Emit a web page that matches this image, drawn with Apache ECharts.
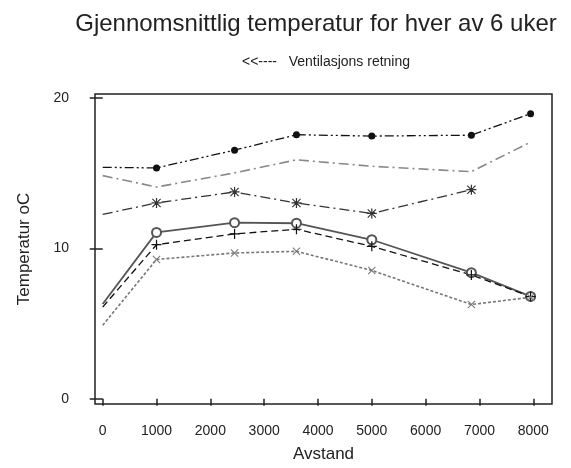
<!DOCTYPE html>
<html>
<head>
<meta charset="utf-8">
<title>Gjennomsnittlig temperatur</title>
<script src="https://cdn.jsdelivr.net/npm/echarts@6/dist/echarts.min.js"></script>
<style>
  html, body { margin: 0; padding: 0; background: #fff; }
  #chart { width: 571px; height: 468px; }
</style>
</head>
<body>
<div id="chart"></div>
<script>
// Measurement positions along the duct (distance)
const distance = [0, 1000, 2450, 3600, 5000, 6850, 7950];

// Mean temperature (oC) for each of the 6 weeks
const week1 = [15.4, 15.36, 16.54, 17.57, 17.48, 17.54, 18.97];
const week2 = [14.85, 14.09, 15.03, 15.9, 15.47, 15.11, 17.08];
const week3 = [12.27, 13.03, 13.76, 13.03, 12.33, 13.91, null];
const week4 = [6.3, 11.07, 11.72, 11.68, 10.58, 8.39, 6.81];
const week5 = [6.1, 10.25, 10.97, 11.28, 10.14, 8.24, 6.8];
const week6 = [4.89, 9.27, 9.7, 9.81, 8.54, 6.27, 6.75];

// Tick values
const xTicks = [0, 1000, 2000, 3000, 4000, 5000, 6000, 7000, 8000];
const yTicks = [0, 10, 20];

const plusPath = 'path://M4.4,0h1.2v4.4h4.4v1.2h-4.4v4.4h-1.2v-4.4h-4.4v-1.2h4.4z';
const crossPath = 'path://M0.9,0L5,4.1L9.1,0L10,0.9L5.9,5L10,9.1L9.1,10L5,5.9L0.9,10L0,9.1L4.1,5L0,0.9Z';
const starPath = 'path://M4.4,0h1.2v4.4h4.4v1.2h-4.4v4.4h-1.2v-4.4h-4.4v-1.2h4.4z M1.3,0.5L5,4.2L8.7,0.5L9.5,1.3L5.8,5L9.5,8.7L8.7,9.5L5,5.8L1.3,9.5L0.5,8.7L4.2,5L0.5,1.3Z';

// The inlet point (distance 0) is drawn without a marker
function pairs(ys) {
  const out = [];
  distance.forEach((x, i) => {
    if (ys[i] === null) return;
    out.push(i === 0 ? { value: [x, ys[i]], symbol: 'none' } : [x, ys[i]]);
  });
  return out;
}

function lineSeries(name, ys, color, dash, symbol, size, width) {
  return {
    name: name,
    type: 'line',
    data: pairs(ys),
    symbol: symbol || 'none',
    showSymbol: !!symbol,
    symbolSize: size || 7,
    lineStyle: { color: color, width: width || 1.3, type: dash },
    itemStyle: { color: color, borderColor: color, borderWidth: symbol === 'emptyCircle' ? 1.3 : 0 },
    emphasis: { disabled: true },
    animation: false,
    z: 3
  };
}

const chart = echarts.init(document.getElementById('chart'), null, { renderer: 'canvas' });

const font = 'Liberation Sans, Arial, sans-serif';

chart.setOption({
  backgroundColor: '#ffffff',
  title: [
    {
      text: 'Gjennomsnittlig temperatur for hver av 6 uker',
      left: 311, top: 7, textAlign: 'center',
      textStyle: { fontFamily: font, fontSize: 24, fontWeight: 'normal', color: '#222' }
    },
    {
      text: '<<----   Ventilasjons retning',
      left: 321, top: 50, textAlign: 'center',
      textStyle: { fontFamily: font, fontSize: 14, fontWeight: 'normal', color: '#222' }
    }
  ],
  grid: {
    left: 95, right: 19, top: 94, bottom: 60,
    show: true, borderColor: '#222', borderWidth: 1.5, backgroundColor: '#fff'
  },
  xAxis: {
    type: 'value',
    min: -143, max: 8348,
    name: 'Avstand',
    nameLocation: 'middle',
    nameGap: 42,
    nameTextStyle: { fontFamily: font, fontSize: 17, color: '#222' },
    axisLine: { show: false },
    splitLine: { show: false },
    axisTick: { show: true, customValues: xTicks, length: 7, lineStyle: { color: '#222', width: 1.5 } },
    axisLabel: {
      customValues: xTicks, fontFamily: font, fontSize: 14, color: '#222', margin: 20,
      formatter: v => String(v)
    }
  },
  yAxis: {
    type: 'value',
    min: -0.35, max: 20.28,
    name: 'Temperatur oC',
    nameLocation: 'middle',
    nameGap: 62,
    nameTextStyle: { fontFamily: font, fontSize: 17, color: '#222' },
    axisLine: { show: false },
    splitLine: { show: false },
    axisTick: { show: true, customValues: yTicks, length: 13, lineStyle: { color: '#222', width: 1.5 } },
    axisLabel: { customValues: yTicks, fontFamily: font, fontSize: 14, color: '#222', margin: 26 }
  },
  series: [
    lineSeries('Uke 1', week1, '#111', [9, 3, 2, 3, 2, 3], 'circle', 7, 1.3),
    lineSeries('Uke 2', week2, '#888', [10, 4, 2, 4], null, 0, 1.6),
    lineSeries('Uke 3', week3, '#333', [10, 4, 2, 4], starPath, 10, 1.3),
    lineSeries('Uke 4', week4, '#555', 'solid', 'emptyCircle', 9, 1.8),
    lineSeries('Uke 5', week5, '#111', [7, 4], plusPath, 10, 1.3),
    lineSeries('Uke 6', week6, '#777', [3, 2], crossPath, 8, 1.6)
  ]
});
</script>
</body>
</html>
